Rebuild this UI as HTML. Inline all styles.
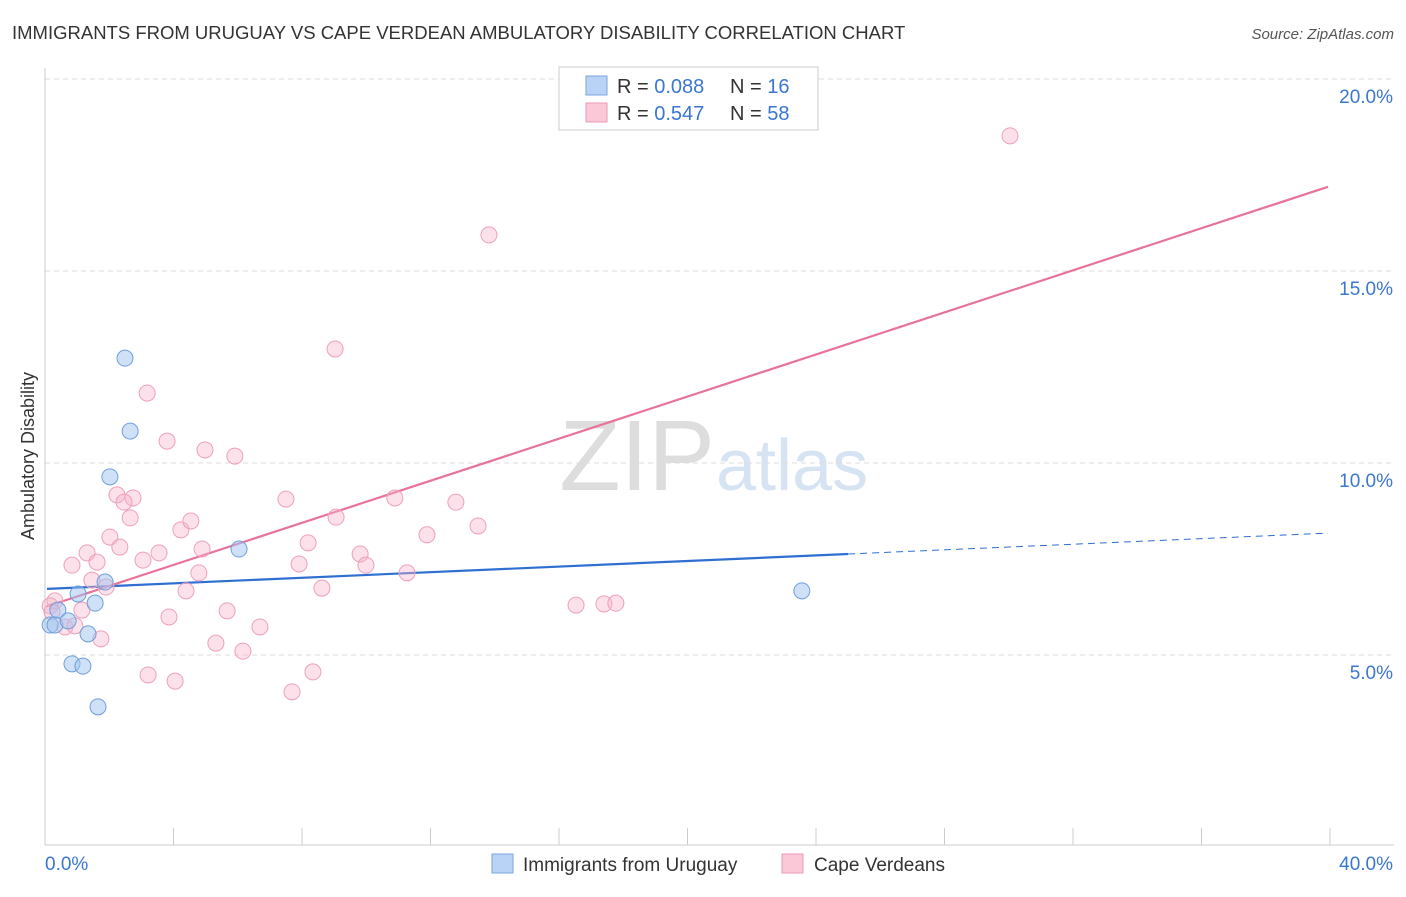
<!DOCTYPE html>
<html><head><meta charset="utf-8"><style>
body{margin:0;background:#fff;font-family:"Liberation Sans",sans-serif}
svg text{font-family:"Liberation Sans",sans-serif}
</style></head><body>
<svg id="chart" width="1406" height="892">
<text x="12" y="39" font-size="18.5" fill="#333">IMMIGRANTS FROM URUGUAY VS CAPE VERDEAN AMBULATORY DISABILITY CORRELATION CHART</text>
<text x="1394" y="39" font-size="15" fill="#555" font-style="italic" text-anchor="end">Source: ZipAtlas.com</text>
<text x="715" y="490" font-size="100" fill="#ddd" text-anchor="end" font-family="Liberation Serif">ZIP</text>
<text x="716" y="490" font-size="72" fill="#d6e3f3">atlas</text>
<text transform="translate(34,456) rotate(-90)" font-size="18" fill="#333" text-anchor="middle">Ambulatory Disability</text>
<g id="grid"></g><g id="axes"></g><g id="trend"></g><g id="pts"></g>
<g>
<rect x="559" y="67" width="259" height="63" fill="#fff" stroke="#ccc"/>
<rect x="586" y="76" width="21" height="19" fill="#b8d3f5" stroke="#7aa6e0"/>
<rect x="586" y="103" width="21" height="19" fill="#fbc8d8" stroke="#ee99b4"/>
<text x="617" y="93" font-size="20" fill="#333">R = <tspan fill="#3a77d1">0.088</tspan></text>
<text x="730" y="93" font-size="20" fill="#333">N = <tspan fill="#3a77d1">16</tspan></text>
<text x="617" y="120" font-size="20" fill="#333">R = <tspan fill="#3a77d1">0.547</tspan></text>
<text x="730" y="120" font-size="20" fill="#333">N = <tspan fill="#3a77d1">58</tspan></text>
</g>
<g>
<rect x="492" y="854" width="21" height="19" fill="#b8d3f5" stroke="#7aa6e0"/>
<text x="523" y="871" font-size="19" fill="#333">Immigrants from Uruguay</text>
<rect x="782" y="854" width="21" height="19" fill="#fbc8d8" stroke="#ee99b4"/>
<text x="814" y="871" font-size="19" fill="#333">Cape Verdeans</text>
</g>
</svg>
<script>
const yTicks=[5,10,15,20];
const yTickLabels=["5.0%","10.0%","15.0%","20.0%"];
const xTickLabels=["0.0%","40.0%"];
const blueX=[2.49,2.65,2.02,6.04,23.56,1.56,1.03,1.87,0.40,0.16,0.31,0.72,1.34,0.84,1.18,1.65];
const blueY=[12.73,10.83,9.64,7.76,6.67,6.35,6.59,6.90,6.17,5.78,5.78,5.89,5.55,4.77,4.71,3.65];
const pinkX=[30.04,13.82,9.03,3.18,3.80,4.98,5.91,2.24,2.74,2.46,7.50,10.89,12.79,9.06,2.65,13.48,4.23,4.54,11.89,2.02,2.33,8.19,1.31,3.55,4.89,9.81,3.05,0.84,1.62,7.91,9.99,4.79,11.27,1.46,4.39,8.62,1.90,0.31,0.16,1.15,5.67,3.86,16.53,17.40,17.77,0.62,0.93,1.74,6.69,5.32,6.16,3.21,4.05,8.34,7.69,0.22,22.57];
const pinkY=[18.52,15.94,12.97,11.82,10.57,10.34,10.18,9.17,9.09,8.98,9.06,9.09,8.98,8.59,8.57,8.36,8.26,8.49,8.13,8.07,7.81,7.92,7.66,7.66,7.76,7.63,7.47,7.34,7.42,7.37,7.34,7.14,7.14,6.95,6.67,6.74,6.77,6.41,6.28,6.17,6.15,5.99,6.30,6.33,6.35,5.73,5.76,5.42,5.73,5.31,5.10,4.48,4.32,4.56,4.04,6.12,19.82];
const blueTrend=[6.72,0.0364];
const pinkTrend=[6.25,0.274];
const NS="http://www.w3.org/2000/svg";
const sx=v=>45+v*32.125, sy=v=>847-v*38.4;
function mk(t,a,p){const e=document.createElementNS(NS,t);for(const k in a)e.setAttribute(k,a[k]);document.getElementById(p).appendChild(e);return e;}
yTicks.forEach((t,i)=>{
 const g=mk('line',{x1:45,x2:1394,y1:sy(t),y2:sy(t),stroke:'#ddd','stroke-dasharray':'5,4'},'grid');
 
 
 const l=mk('text',{x:1393,y:sy(t)+24,'font-size':19,fill:'#3a77d1','text-anchor':'end'},'axes');
 l.textContent=yTickLabels[i];
 
 
});
mk('line',{x1:45,x2:45,y1:68,y2:845,stroke:'#ccc'},'axes');
mk('line',{x1:45,x2:1394,y1:845,y2:845,stroke:'#ccc'},'axes');
for(let i=0;i<=10;i++){mk('line',{x1:sx(i*4),x2:sx(i*4),y1:828,y2:845,stroke:'#ccc'},'axes');}
const xl0=mk('text',{x:45,y:870,'font-size':19,fill:'#3a77d1'},'axes');xl0.textContent=xTickLabels[0];


const xl1=mk('text',{x:1393,y:870,'font-size':19,fill:'#3a77d1','text-anchor':'end'},'axes');xl1.textContent=xTickLabels[1];


const bl=x=>blueTrend[0]+blueTrend[1]*x, pl=x=>pinkTrend[0]+pinkTrend[1]*x;
const t1=mk('line',{x1:sx(0.06),y1:sy(bl(0.06)),x2:sx(25),y2:sy(bl(25)),stroke:'#2f6fd1','stroke-width':2.2},'trend');


const t2=mk('line',{x1:sx(25),y1:sy(bl(25)),x2:sx(39.94),y2:sy(bl(39.94)),stroke:'#2f6fd1','stroke-width':1,'stroke-dasharray':'7,5'},'trend');


const t3=mk('line',{x1:sx(0.06),y1:sy(pl(0.06)),x2:sx(39.94),y2:sy(pl(39.94)),stroke:'#e8739a','stroke-width':2.2},'trend');


pinkX.forEach((x,i)=>{
 const c=mk('circle',{cx:sx(x),cy:sy(pinkY[i]),r:8,fill:'rgba(248,180,202,0.4)',stroke:'#eea0ba','stroke-width':1},'pts');
 
 
});
blueX.forEach((x,i)=>{
 const c=mk('circle',{cx:sx(x),cy:sy(blueY[i]),r:8,fill:'rgba(160,196,240,0.5)',stroke:'#6e9fdc','stroke-width':1},'pts');
 
 
});
</script>
</body></html>
